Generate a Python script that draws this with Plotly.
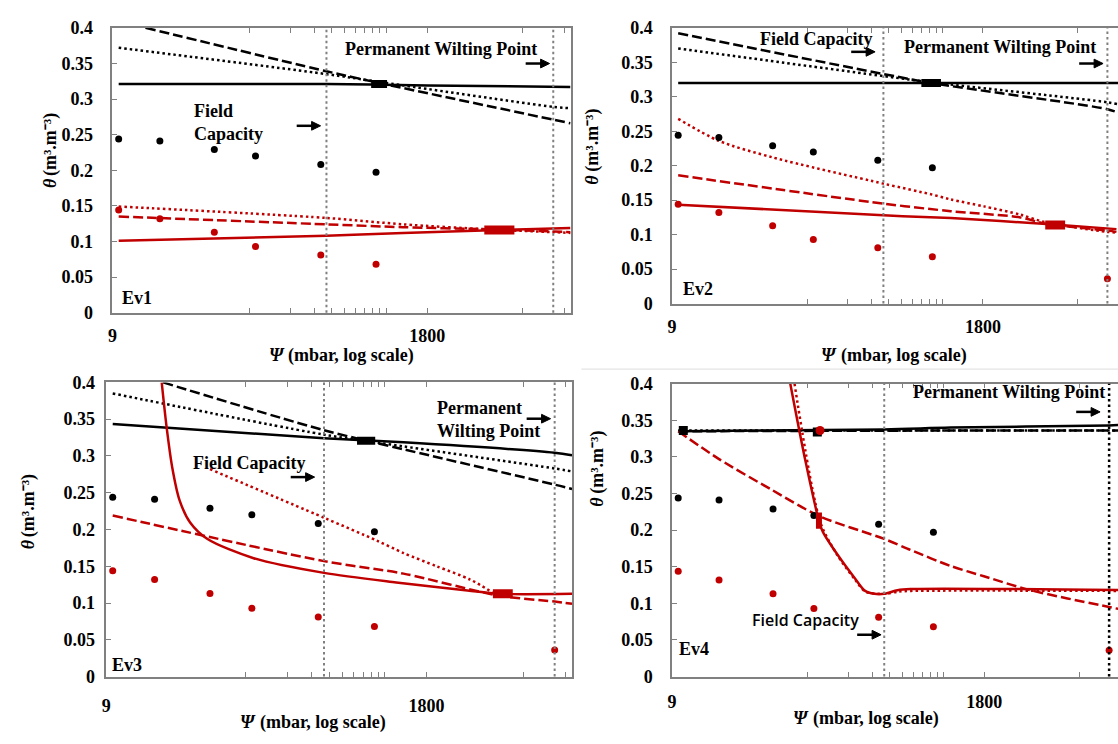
import math
import plotly.graph_objects as go

W, H = 1118, 744
RED = "#C00000"
GRAY = "#808080"
SERIF = "Liberation Serif, Times New Roman, serif"

# ---------------- data ----------------
psi_obs = [10, 20, 50, 100, 300, 760, 15000]
theta_obs_black = [0.244, 0.241, 0.229, 0.220, 0.208, 0.197]
theta_obs_red = [0.144, 0.132, 0.113, 0.093, 0.081, 0.068, 0.036]

fc_psi = 330
pwp_psi = 15000

# Ev1
ev1_bs_psi = [10, 330, 1800, 20000]
ev1_bs_th = [0.321, 0.321, 0.319, 0.317]
ev1_bd_psi = [15.7, 330, 740, 15000, 20000]
ev1_bd_th = [0.400, 0.339, 0.324, 0.271, 0.266]
ev1_bo_psi = [10, 330, 740, 15000, 20000]
ev1_bo_th = [0.372, 0.335, 0.325, 0.289, 0.287]
ev1_rs_psi = [10, 330, 1200, 6000, 20000]
ev1_rs_th = [0.101, 0.108, 0.112, 0.116, 0.119]
ev1_rd_psi = [10, 330, 1200, 5000, 15000, 20000]
ev1_rd_th = [0.135, 0.124, 0.120, 0.117, 0.114, 0.113]
ev1_ro_psi = [10, 330, 1200, 5000, 15000, 20000]
ev1_ro_th = [0.149, 0.133, 0.124, 0.117, 0.113, 0.112]
ev1_bm_psi = [700, 915]
ev1_bm_th = [0.321, 0.321]
ev1_rm_psi = [4700, 7800]
ev1_rm_th = [0.116, 0.116]

# Ev2
ev2_bs_psi = [10, 330, 20000]
ev2_bs_th = [0.320, 0.320, 0.320]
ev2_bd_psi = [10, 330, 740, 15000, 18000]
ev2_bd_th = [0.392, 0.333, 0.320, 0.282, 0.277]
ev2_bo_psi = [10, 330, 740, 15000, 18000]
ev2_bo_th = [0.370, 0.330, 0.321, 0.292, 0.289]
ev2_rs_psi = [10, 330, 1040, 5650, 17500]
ev2_rs_th = [0.1435, 0.128, 0.124, 0.115, 0.108]
ev2_rd_psi = [10, 330, 1040, 3400, 5200, 15000, 17500]
ev2_rd_th = [0.186, 0.145, 0.134, 0.125, 0.116, 0.106, 0.104]
ev2_ro_psi = [10, 20, 50, 330, 760, 1040, 1830, 3400, 5200, 15000, 17500]
ev2_ro_th = [0.268, 0.236, 0.212, 0.174, 0.158, 0.151, 0.141, 0.129, 0.118, 0.104, 0.103]
ev2_bm_psi = [630, 880]
ev2_bm_th = [0.320, 0.320]
ev2_rm_psi = [5200, 7300]
ev2_rm_th = [0.114, 0.114]

# Ev3
ev3_bs_psi = [10, 330, 1230, 15000, 20000]
ev3_bs_th = [0.3435, 0.324, 0.3185, 0.3044, 0.301]
ev3_bd_psi = [23, 330, 1230, 15000, 20000]
ev3_bd_th = [0.400, 0.335, 0.309, 0.261, 0.255]
ev3_bo_psi = [10, 330, 1230, 15000, 20000]
ev3_bo_th = [0.385, 0.329, 0.313, 0.283, 0.279]
ev3_rs_psi = [22.5, 24.3, 26.8, 30.2, 36, 48, 103, 330, 1090, 3540, 6000, 20000]
ev3_rs_th = [0.400, 0.342, 0.284, 0.240, 0.2095, 0.187, 0.161, 0.141, 0.128, 0.117, 0.1125, 0.1125]
ev3_rd_psi = [10, 330, 1230, 6000, 15000, 20000]
ev3_rd_th = [0.219, 0.157, 0.140, 0.110, 0.102, 0.099]
ev3_ro_psi = [50, 330, 790, 1230, 2130, 3700, 5400]
ev3_ro_th = [0.282, 0.216, 0.185, 0.168, 0.150, 0.132, 0.114]
ev3_bm_psi = [570, 770]
ev3_bm_th = [0.3206, 0.3206]
ev3_rm_psi = [5400, 7500]
ev3_rm_th = [0.1125, 0.1125]

# Ev4
ev4_bs_psi = [10, 330, 1020, 15000, 18000]
ev4_bs_th = [0.335, 0.3375, 0.340, 0.343, 0.3435]
ev4_bd_psi = [10, 1020, 18000]
ev4_bd_th = [0.335, 0.336, 0.336]
ev4_bo_psi = [10, 18000]
ev4_bo_th = [0.336, 0.336]
ev4_rs_psi = [67, 86.6, 110, 117, 150, 199, 237, 279, 330, 413, 515, 18000]
ev4_rs_th = [0.400, 0.2946, 0.210, 0.197, 0.166, 0.135, 0.1174, 0.113, 0.113, 0.118, 0.1196, 0.1183]
ev4_ro_psi = [72, 112, 150, 200, 240, 330, 420, 520, 18000]
ev4_ro_th = [0.400, 0.210, 0.165, 0.133, 0.116, 0.113, 0.116, 0.117, 0.117]
ev4_rd_psi = [10, 20, 49, 110, 330, 515, 1020, 1790, 3950, 15000, 18000]
ev4_rd_th = [0.335, 0.297, 0.255, 0.219, 0.188, 0.173, 0.151, 0.137, 0.118, 0.095, 0.092]
ev4_bsq_psi = [10.9, 106]
ev4_bsq_th = [0.336, 0.334]
ev4_rc_psi = [111]
ev4_rc_th = [0.336]
ev4_rbar_psi = [109, 109]
ev4_rbar_th = [0.202, 0.224]

x_ticks = [9, 1800]
x_minor = [90, 180, 270, 360, 450, 540, 630, 720, 810, 900, 9000, 18000]
y_ticks = [0, 0.05, 0.1, 0.15, 0.2, 0.25, 0.3, 0.35, 0.4]
y_ticktext = ["0", "0.05", "0.1", "0.15", "0.2", "0.25", "0.3", "0.35", "0.4"]

# ---------------- figure ----------------
fig = go.Figure()

DASH = "10px,4px"
DOT = "2.5px,3px"


def line(ax, xs, ys, color, dash="solid", width=2.5, smooth=False):
    ln = dict(color=color, width=width, dash=dash)
    if smooth:
        ln.update(shape="spline", smoothing=0.8)
    fig.add_trace(go.Scatter(x=xs, y=ys, mode="lines", xaxis="x" + ax, yaxis="y" + ax,
                             line=ln, showlegend=False, hoverinfo="skip"))


def pts(ax, xs, ys, color, size=7, symbol="circle"):
    fig.add_trace(go.Scatter(x=xs, y=ys, mode="markers", xaxis="x" + ax, yaxis="y" + ax,
                             marker=dict(color=color, size=size, symbol=symbol),
                             showlegend=False, hoverinfo="skip"))


panels = {
    "": dict(bs=(ev1_bs_psi, ev1_bs_th), bd=(ev1_bd_psi, ev1_bd_th), bo=(ev1_bo_psi, ev1_bo_th),
             rs=(ev1_rs_psi, ev1_rs_th), rd=(ev1_rd_psi, ev1_rd_th), ro=(ev1_ro_psi, ev1_ro_th),
             bm=(ev1_bm_psi, ev1_bm_th), rm=(ev1_rm_psi, ev1_rm_th), nred=6),
    "2": dict(bs=(ev2_bs_psi, ev2_bs_th), bd=(ev2_bd_psi, ev2_bd_th), bo=(ev2_bo_psi, ev2_bo_th),
              rs=(ev2_rs_psi, ev2_rs_th), rd=(ev2_rd_psi, ev2_rd_th), ro=(ev2_ro_psi, ev2_ro_th),
              bm=(ev2_bm_psi, ev2_bm_th), rm=(ev2_rm_psi, ev2_rm_th), nred=7),
    "3": dict(bs=(ev3_bs_psi, ev3_bs_th), bd=(ev3_bd_psi, ev3_bd_th), bo=(ev3_bo_psi, ev3_bo_th),
              rs=(ev3_rs_psi, ev3_rs_th), rd=(ev3_rd_psi, ev3_rd_th), ro=(ev3_ro_psi, ev3_ro_th),
              bm=(ev3_bm_psi, ev3_bm_th), rm=(ev3_rm_psi, ev3_rm_th), nred=7),
    "4": dict(bs=(ev4_bs_psi, ev4_bs_th), bd=(ev4_bd_psi, ev4_bd_th), bo=(ev4_bo_psi, ev4_bo_th),
              rs=(ev4_rs_psi, ev4_rs_th), rd=(ev4_rd_psi, ev4_rd_th), ro=(ev4_ro_psi, ev4_ro_th),
              bm=None, rm=None, nred=7),
}

for ax, p in panels.items():
    line(ax, *p["bo"], "black", DOT, 2.5, True)
    line(ax, *p["bd"], "black", DASH, 2.5, True)
    line(ax, *p["bs"], "black", "solid", 2.5, True)
    line(ax, *p["ro"], RED, DOT, 2.5, True)
    line(ax, *p["rd"], RED, DASH, 2.5, True)
    line(ax, *p["rs"], RED, "solid", 2.5, True)
    if p["bm"]:
        line(ax, *p["bm"], "black", "solid", 8)
    if p["rm"]:
        line(ax, *p["rm"], RED, "solid", 9)
    pts(ax, psi_obs[:6], theta_obs_black, "black")
    pts(ax, psi_obs[:p["nred"]], theta_obs_red[:p["nred"]], RED)

pts("4", ev4_bsq_psi, ev4_bsq_th, "black", size=9, symbol="square")
pts("4", ev4_rc_psi, ev4_rc_th, RED, size=9)
line("4", ev4_rbar_psi, ev4_rbar_th, RED, "solid", 6)


def px(x):
    return x / W


def py(y):
    return 1 - y / H


domains = {
    "": (px(107.9), px(568.3), py(311), py(18.3), True),
    "2": (px(670.0), 1.0, py(301.7), py(18.3), False),
    "3": (px(101.8), px(570.0), py(685), py(382.7), True),
    "4": (px(670.0), 1.0, py(685), py(384), False),
}
xr = {"": 4.304, "2": 4.2545, "3": 4.304, "4": 4.2415}
xstand = {"": 6, "2": 6, "3": 12, "4": 8}
ystand = {"": 14, "2": 14, "3": 6, "4": 14}

TF = dict(family=SERIF, size=18, color="black", weight="bold")
for ax, (x0, x1, y0, y1, mir) in domains.items():
    xa = dict(type="log", domain=[x0, x1], anchor="y" + ax,
              range=[math.log10(9), xr[ax]], showline=True, linecolor=GRAY, linewidth=1.5,
              mirror="ticks", ticks="inside", ticklen=5, tickcolor=GRAY,
              tickvals=x_ticks, ticktext=[str(v) for v in x_ticks], tickfont=TF,
              showgrid=False, zeroline=False, ticklabelstandoff=xstand[ax],
              minor=dict(tickmode="array", tickvals=x_minor, ticks="inside", ticklen=5,
                         tickcolor=GRAY, showgrid=False))
    ya = dict(domain=[y0, y1], anchor="x" + ax, range=[0, 0.4], showline=True,
              linecolor=GRAY, linewidth=1.5, mirror=True if mir else False,
              ticks="inside", ticklen=5, tickcolor=GRAY, tickvals=y_ticks,
              ticktext=y_ticktext, tickfont=TF, showgrid=False, zeroline=False,
              ticklabelstandoff=ystand[ax])
    fig.update_layout(**{"xaxis" + ax: xa, "yaxis" + ax: ya})

# vertical reference lines
shapes = []
for ax in ["", "2", "3", "4"]:
    shapes.append(dict(type="line", xref="x" + ax, yref="y" + ax + " domain", x0=fc_psi, x1=fc_psi,
                       y0=0, y1=1, line=dict(color=GRAY, width=2, dash=DOT)))
    pcol = "black" if ax == "4" else GRAY
    pw = 2.5 if ax == "4" else 2
    shapes.append(dict(type="line", xref="x" + ax, yref="y" + ax + " domain", x0=pwp_psi, x1=pwp_psi,
                       y0=0, y1=1, line=dict(color=pcol, width=pw, dash=DOT)))
shapes.append(dict(type="line", xref="paper", yref="paper", x0=px(579), x1=1, y0=py(369), y1=py(369),
                   line=dict(color="#dddddd", width=1)))


def arrow(xh, y, length=24):
    shapes.append(dict(type="line", xref="paper", yref="paper", x0=px(xh - length), x1=px(xh - 7),
                       y0=py(y), y1=py(y), line=dict(color="black", width=2.5)))
    path = "M {:.5f},{:.5f} L {:.5f},{:.5f} L {:.5f},{:.5f} Z".format(
        px(xh), py(y), px(xh - 9), py(y - 4.5), px(xh - 9), py(y + 4.5))
    shapes.append(dict(type="path", xref="paper", yref="paper", path=path,
                       fillcolor="black", line=dict(color="black", width=1)))


ann = []
AF = dict(family=SERIF, size=18, color="black", weight="bold")
AFI = dict(family=SERIF, size=18, color="black", weight="bold", style="italic")


def text(t, x, y, xanchor="center", align="center", font=None, angle=0):
    ann.append(dict(text=t, x=px(x), y=py(y), xref="paper", yref="paper", showarrow=False,
                    xanchor=xanchor, yanchor="middle", align=align, font=font or AF,
                    textangle=angle))


# Ev1
text("Permanent Wilting Point", 438, 40)
arrow(547, 55)
text("Field<br>Capacity", 188, 116, xanchor="left", align="left")
arrow(317, 119)
text("Ev1", 116, 296, xanchor="left")
# Ev2
text("Field Capacity", 815, 30)
arrow(874, 43)
text("Permanent Wilting Point", 999, 38)
arrow(1103, 55)
text("Ev2", 679, 287, xanchor="left")
# Ev3
text("Permanent<br>Wilting Point", 432, 421, xanchor="left", align="left")
arrow(548, 420)
text("Field Capacity", 246, 466)
arrow(311, 480)
text("Ev3", 105, 673, xanchor="left")
# Ev4
text("Permanent Wilting Point", 1009, 393)
arrow(1100, 413)
text("Field Capacity", 748, 627, xanchor="left",
     font=dict(family="Open Sans", size=16, color="black", weight=600))
arrow(880, 642)
text("Ev4", 675, 657, xanchor="left")

# axis titles (symbol in italic, rest upright)
for (cx, cy) in [(339, 355), (894, 355), (310, 732), (866, 728)]:
    text("Ψ", cx - 66, cy, font=AFI)
    text("(mbar, log scale)", cx + 9, cy)
for (cx, cy) in [(45, 144), (590, 140), (23, 515), (595, 471)]:
    text("θ", cx, cy + 34, font=AFI, angle=-90)
    text("(m³.m⁻³)", cx, cy - 6, angle=-90)

fig.update_layout(annotations=ann, shapes=shapes, width=W, height=H,
                  margin=dict(l=0, r=0, t=0, b=0),
                  paper_bgcolor="white", plot_bgcolor="white", showlegend=False,
                  font=dict(family=SERIF))

fig.write_html("out.html")
